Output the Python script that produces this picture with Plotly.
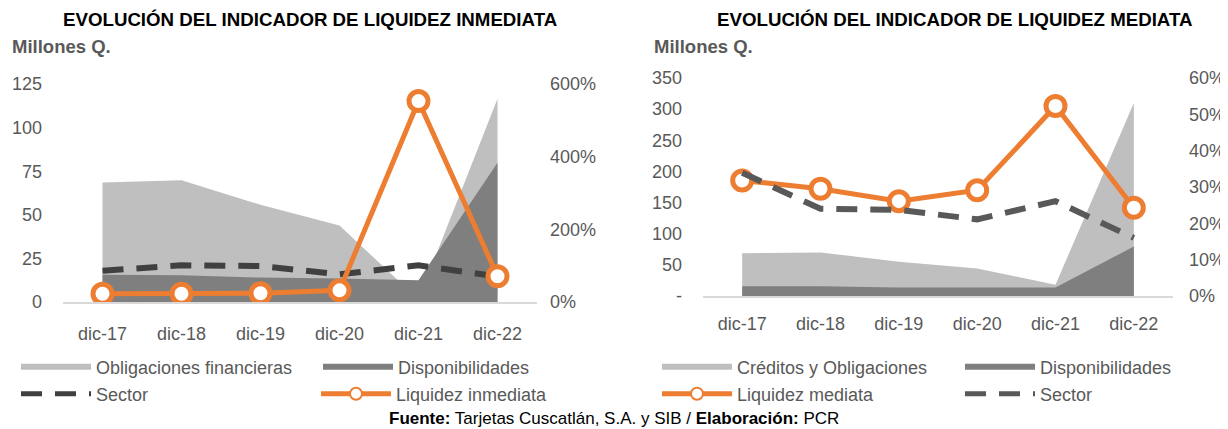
import plotly.graph_objects as go

# The page puts the figure 8 px from the window's top-left corner,
# so the figure is 8 px smaller than the window and positions are shifted.
WIN_W, WIN_H = 1228, 429
OFF = 8
W, H = WIN_W - OFF, WIN_H - OFF

# ---------------- data ----------------
categories = ["dic-17", "dic-18", "dic-19", "dic-20", "dic-21", "dic-22"]

# Left chart: liquidez inmediata (Millones Q. / %)
obligaciones_financieras = [68.5, 69.8, 55.7, 43.8, 1.5, 116.5]
disponibilidades_l = [15.6, 15.3, 14.0, 13.5, 12.5, 79.8]
sector_l = [86, 101, 99, 76, 101, 70]
liquidez_inmediata = [22.6, 22.6, 24.0, 32.0, 553.0, 71.0]

# Right chart: liquidez mediata (Millones Q. / %)
creditos_obligaciones = [68.6, 70.0, 55.0, 44.0, 18.0, 310.0]
disponibilidades_r = [15.7, 15.5, 13.5, 13.5, 13.5, 79.5]
liquidez_mediata = [31.8, 29.5, 26.1, 29.1, 52.3, 24.3]
sector_r = [33.9, 24.0, 23.7, 21.1, 26.1, 16.0]

left_ticks = [0, 25, 50, 75, 100, 125]
left_pct_ticks = [0, 200, 400, 600]
right_ticks = [0, 50, 100, 150, 200, 250, 300, 350]
right_tick_text = ["-", "50", "100", "150", "200", "250", "300", "350"]
right_pct_ticks = [0, 10, 20, 30, 40, 50, 60]

# ---------------- styles ----------------
LIGHT = "#BFBFBF"
DARK = "#7F7F7F"
ORANGE = "#ED7D31"
TXT = "#595959"
FONT = "Liberation Sans, Arial, sans-serif"
FS = 18


def px_x(x):
    return (x - OFF) / W


def px_y(y):
    return 1 - (y - OFF) / H


fig = go.Figure()

# left chart
fig.add_trace(go.Scatter(x=categories, y=obligaciones_financieras, name="Obligaciones financieras",
                         mode="none", fill="tozeroy", fillcolor=LIGHT, xaxis="x", yaxis="y",
                         legend="legend"))
fig.add_trace(go.Scatter(x=categories, y=disponibilidades_l, name="Disponibilidades",
                         mode="none", fill="tozeroy", fillcolor=DARK, xaxis="x", yaxis="y",
                         legend="legend2"))
fig.add_trace(go.Scatter(x=categories, y=sector_l, name="Sector", mode="lines",
                         line=dict(color="#404040", width=6, dash="21px,13px"),
                         xaxis="x", yaxis="y2", legend="legend3"))
fig.add_trace(go.Scatter(x=categories, y=liquidez_inmediata, name="Liquidez inmediata",
                         mode="lines+markers", line=dict(color=ORANGE, width=5),
                         marker=dict(symbol="circle", size=19, color="white",
                                     line=dict(color=ORANGE, width=5)),
                         xaxis="x", yaxis="y2", legend="legend4"))

# right chart
fig.add_trace(go.Scatter(x=categories, y=creditos_obligaciones, name="Créditos y Obligaciones",
                         mode="none", fill="tozeroy", fillcolor=LIGHT, xaxis="x2", yaxis="y3",
                         legend="legend5"))
fig.add_trace(go.Scatter(x=categories, y=disponibilidades_r, name="Disponibilidades",
                         mode="none", fill="tozeroy", fillcolor=DARK, xaxis="x2", yaxis="y3",
                         legend="legend6"))
fig.add_trace(go.Scatter(x=categories, y=liquidez_mediata, name="Liquidez mediata",
                         mode="lines+markers", line=dict(color=ORANGE, width=5),
                         marker=dict(symbol="circle", size=19, color="white",
                                     line=dict(color=ORANGE, width=5)),
                         xaxis="x2", yaxis="y4", legend="legend7"))
fig.add_trace(go.Scatter(x=categories, y=sector_r, name="Sector", mode="lines",
                         line=dict(color="#595959", width=6, dash="21px,13px"),
                         xaxis="x2", yaxis="y4", legend="legend8"))

tickfont = dict(family=FONT, size=FS, color=TXT)

xcommon = dict(type="category", range=[-0.5, 5.5], showgrid=False, zeroline=False,
               showline=True, linecolor="#D9D9D9", linewidth=2, ticks="",
               tickfont=tickfont, fixedrange=True)
ycommon = dict(showgrid=False, zeroline=False, showline=False, ticks="",
               tickfont=tickfont, fixedrange=True, tickmode="array")

fig.update_layout(
    width=W, height=H,
    margin=dict(l=0, r=0, t=0, b=0, autoexpand=False),
    paper_bgcolor="white", plot_bgcolor="white",
    font=dict(family=FONT, size=FS, color=TXT),
    showlegend=True,
    xaxis=dict(domain=[px_x(63), px_x(537)], anchor="y", ticklabelstandoff=14, **xcommon),
    yaxis=dict(domain=[px_y(302), px_y(84)], anchor="x", range=[0, 125],
               tickvals=left_ticks, ticktext=[str(v) for v in left_ticks],
               ticklabelstandoff=20, **ycommon),
    yaxis2=dict(overlaying="y", side="right", anchor="x", range=[0, 600],
                tickvals=left_pct_ticks, ticktext=[f"{v}%" for v in left_pct_ticks],
                ticklabelstandoff=12, **ycommon),
    xaxis2=dict(domain=[px_x(703), px_x(1173)], anchor="y3", ticklabelstandoff=10, **xcommon),
    yaxis3=dict(domain=[px_y(296), px_y(78)], anchor="x2", range=[0, 350],
                tickvals=right_ticks, ticktext=right_tick_text, ticklabelstandoff=20, **ycommon),
    yaxis4=dict(overlaying="y3", side="right", anchor="x2", range=[0, 60],
                tickvals=right_pct_ticks, ticktext=[f"{v}%" for v in right_pct_ticks],
                ticklabelstandoff=15, **ycommon),
)

# one legend box per legend entry, placed like the reference
legend_spots = {
    "legend": (16, 367), "legend2": (318, 367), "legend3": (16, 394), "legend4": (316, 394),
    "legend5": (657, 367), "legend6": (960, 367), "legend7": (657, 394), "legend8": (960, 394),
}
for name, (lx, ly) in legend_spots.items():
    fig.update_layout({name: dict(orientation="h", x=px_x(lx), y=px_y(ly), xanchor="left",
                                  yanchor="middle", itemwidth=70, borderwidth=0,
                                  itemsizing="constant",
                                  font=dict(family=FONT, size=FS, color=TXT),
                                  bgcolor="rgba(0,0,0,0)", itemclick=False,
                                  itemdoubleclick=False)})

annotations = [
    dict(text="<b>EVOLUCIÓN DEL INDICADOR DE LIQUIDEZ INMEDIATA</b>", x=px_x(310), y=px_y(20),
         font=dict(family=FONT, size=18.7, color="black")),
    dict(text="<b>EVOLUCIÓN DEL INDICADOR DE LIQUIDEZ MEDIATA</b>", x=px_x(955), y=px_y(20),
         font=dict(family=FONT, size=18.7, color="black")),
    dict(text="<b>Millones Q.</b>", x=px_x(10), y=px_y(47), xanchor="left",
         font=dict(family=FONT, size=18.5, color=TXT)),
    dict(text="<b>Millones Q.</b>", x=px_x(652), y=px_y(47), xanchor="left",
         font=dict(family=FONT, size=18.5, color=TXT)),
    dict(text="<b>Fuente:</b> Tarjetas Cuscatlán, S.A. y SIB / <b>Elaboración:</b> PCR",
         x=px_x(614), y=px_y(418), font=dict(family=FONT, size=17, color="black")),
]
for a in annotations:
    a.setdefault("xanchor", "center")
    a.update(xref="paper", yref="paper", yanchor="middle", showarrow=False)
fig.update_layout(annotations=annotations)

fig.write_html("out.html", config={"displayModeBar": False})
